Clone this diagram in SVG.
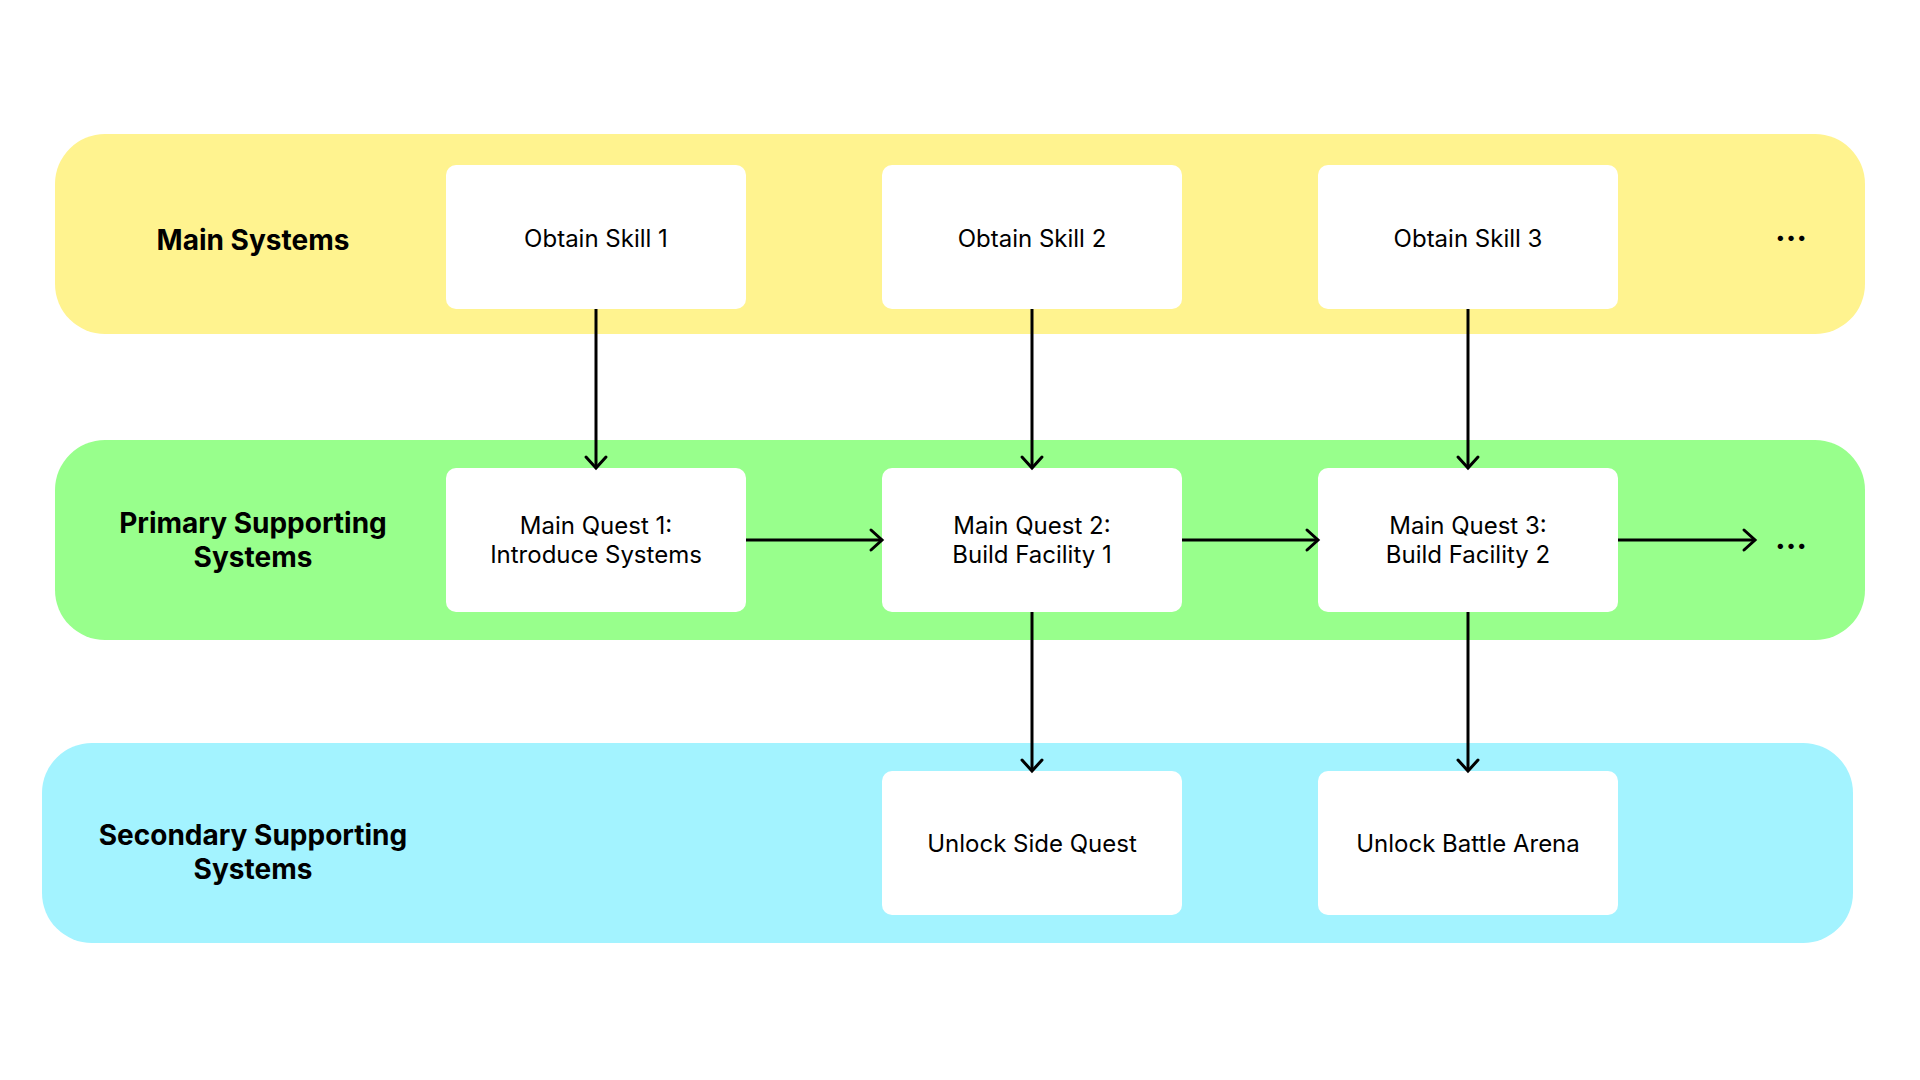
<svg xmlns="http://www.w3.org/2000/svg" width="1920" height="1080" viewBox="0 0 1920 1080">
<style>
.band-y{fill:#FFF38F}
.band-g{fill:#98FF8C}
.band-b{fill:#A3F3FF}
.node rect{fill:#FFFFFF}
.lbl{font-family:Inter,"Liberation Sans",sans-serif;font-weight:700;font-size:28px;fill:#000;text-anchor:middle}
.txt{font-family:Inter,"Liberation Sans",sans-serif;font-weight:400;font-size:24px;fill:#000;text-anchor:middle}
.dots{font-family:Inter,"Liberation Sans",sans-serif;font-weight:700;font-size:32px;fill:#000;text-anchor:middle}
.conn line{stroke:#000;stroke-width:3;fill:none;marker-end:url(#arr)}
</style>
<defs>
<marker id="arr" markerUnits="userSpaceOnUse" markerWidth="30" markerHeight="30" viewBox="-15 -15 30 30" refX="0" refY="0" orient="auto">
<path d="M-11,-10 L0,0 L-11,10" fill="none" stroke="#000" stroke-width="3" stroke-linecap="round" stroke-linejoin="miter"/>
</marker>
</defs>
<rect width="1920" height="1080" fill="#FFFFFF"/>
<g id="lane-main">
<rect class="band-y" x="55" y="134" width="1810" height="200" rx="50"/>
<text class="lbl" x="253" y="250">Main Systems</text>
<text class="dots" x="1791" y="241">…</text>
</g>
<g id="lane-primary">
<rect class="band-g" x="55" y="440" width="1810" height="200" rx="50"/>
<text class="lbl" x="253" y="533">Primary Supporting</text>
<text class="lbl" x="253" y="567">Systems</text>
<text class="dots" x="1791" y="549">…</text>
</g>
<g id="lane-secondary">
<rect class="band-b" x="42" y="743" width="1811" height="200" rx="50"/>
<text class="lbl" x="253" y="845">Secondary Supporting</text>
<text class="lbl" x="253" y="879">Systems</text>
</g>
<g id="skill1" class="node"><rect x="446" y="165" width="300" height="144" rx="10"/><text class="txt" x="596" y="246.5">Obtain Skill 1</text></g>
<g id="skill2" class="node"><rect x="882" y="165" width="300" height="144" rx="10"/><text class="txt" x="1032" y="246.5">Obtain Skill 2</text></g>
<g id="skill3" class="node"><rect x="1318" y="165" width="300" height="144" rx="10"/><text class="txt" x="1468" y="246.5">Obtain Skill 3</text></g>
<g id="quest1" class="node"><rect x="446" y="468" width="300" height="144" rx="10"/><text class="txt" x="596" y="534.3">Main Quest 1:</text><text class="txt" x="596" y="563.3">Introduce Systems</text></g>
<g id="quest2" class="node"><rect x="882" y="468" width="300" height="144" rx="10"/><text class="txt" x="1032" y="534.3">Main Quest 2:</text><text class="txt" x="1032" y="563.3">Build Facility 1</text></g>
<g id="quest3" class="node"><rect x="1318" y="468" width="300" height="144" rx="10"/><text class="txt" x="1468" y="534.3">Main Quest 3:</text><text class="txt" x="1468" y="563.3">Build Facility 2</text></g>
<g id="side" class="node"><rect x="882" y="771" width="300" height="144" rx="10"/><text class="txt" x="1032" y="851.7">Unlock Side Quest</text></g>
<g id="arena" class="node"><rect x="1318" y="771" width="300" height="144" rx="10"/><text class="txt" x="1468" y="851.7">Unlock Battle Arena</text></g>
<g id="connectors" class="conn">
<line x1="596" y1="309" x2="596" y2="468"/>
<line x1="1032" y1="309" x2="1032" y2="468"/>
<line x1="1468" y1="309" x2="1468" y2="468"/>
<line x1="746" y1="540" x2="882" y2="540"/>
<line x1="1182" y1="540" x2="1318" y2="540"/>
<line x1="1618" y1="540" x2="1755" y2="540"/>
<line x1="1032" y1="612" x2="1032" y2="771"/>
<line x1="1468" y1="612" x2="1468" y2="771"/>
</g>
</svg>
